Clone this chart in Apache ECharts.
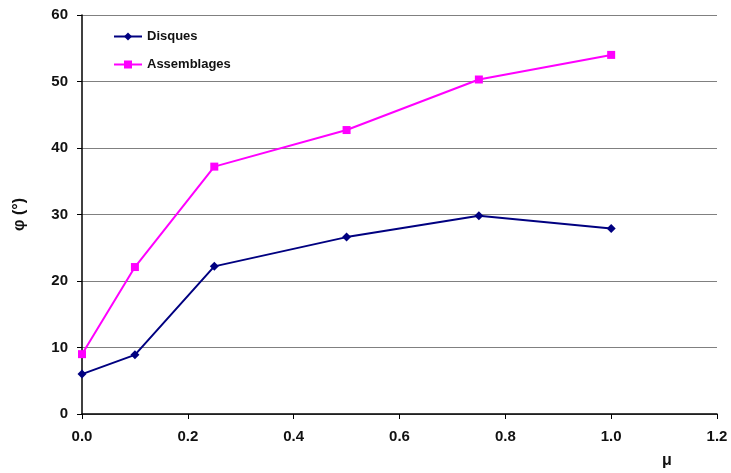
<!DOCTYPE html>
<html><head><meta charset="utf-8">
<script src="https://cdn.jsdelivr.net/npm/echarts@6/dist/echarts.min.js"></script>
<style>html,body{margin:0;padding:0;background:#fff}#c{width:731px;height:473px}</style>
</head><body><div id="c"></div>
<script>
const mu = [0, 0.1, 0.25, 0.5, 0.75, 1.0];
const disques = [6.0, 8.9, 22.2, 26.6, 29.8, 27.9];
const assemblages = [9.0, 22.1, 37.2, 42.7, 50.3, 54.0];
const seriesNames = ['Disques', 'Assemblages'];
const xLabel = 'μ';
const yLabel = 'φ (°)';

const chart = echarts.init(document.getElementById('c'), null, {renderer:'canvas'});
const font = 'Liberation Sans, Arial, sans-serif';
chart.setOption({
  animation: false,
  backgroundColor: '#fff',
  grid: {left: 82, right: 14, top: 15, bottom: 59},
  legend: {
    orient: 'vertical', left: 108, top: 25, itemGap: 15,
    itemWidth: 28, itemHeight: 10,
    textStyle: {fontFamily: font, fontWeight: 'bold', fontSize: 13, color: '#111'},
    data: seriesNames
  },
  graphic: [{
    type: 'text', left: 662, top: 453,
    style: {text: xLabel, fontFamily: font, fontWeight: 'bold', fontSize: 16, fill: '#111'}
  }],
  xAxis: {
    type: 'value', min: 0, max: 1.2, interval: 0.2,
    axisLine: {show: true, lineStyle: {color: '#000', width: 1.5}},
    axisTick: {show: true, length: 5, lineStyle: {color: '#000'}},
    splitLine: {show: false},
    axisLabel: {fontFamily: font, fontWeight: 'bold', fontSize: 15, color: '#111', margin: 15,
      formatter: v => v.toFixed(1)}
  },
  yAxis: {
    type: 'value', min: 0, max: 60, interval: 10,
    name: yLabel, nameLocation: 'middle', nameGap: 54, nameRotate: 90,
    nameTextStyle: {fontFamily: font, fontWeight: 'bold', fontSize: 16, color: '#111'},
    axisLine: {show: true, lineStyle: {color: '#000', width: 1.5}},
    axisTick: {show: true, length: 5, lineStyle: {color: '#000'}},
    splitLine: {show: true, lineStyle: {color: '#808080', width: 1.2}},
    axisLabel: {fontFamily: font, fontWeight: 'bold', fontSize: 15, color: '#111', margin: 14}
  },
  series: [
    {name: seriesNames[0], type: 'line', data: mu.map((x,i)=>[x, disques[i]]),
     symbol: 'diamond', symbolSize: 9, color: '#000080',
     lineStyle: {color: '#000080', width: 2}, itemStyle: {color: '#000080'}},
    {name: seriesNames[1], type: 'line', data: mu.map((x,i)=>[x, assemblages[i]]),
     symbol: 'rect', symbolSize: 8, color: '#ff00ff',
     lineStyle: {color: '#ff00ff', width: 2}, itemStyle: {color: '#ff00ff'}}
  ]
});
</script></body></html>
